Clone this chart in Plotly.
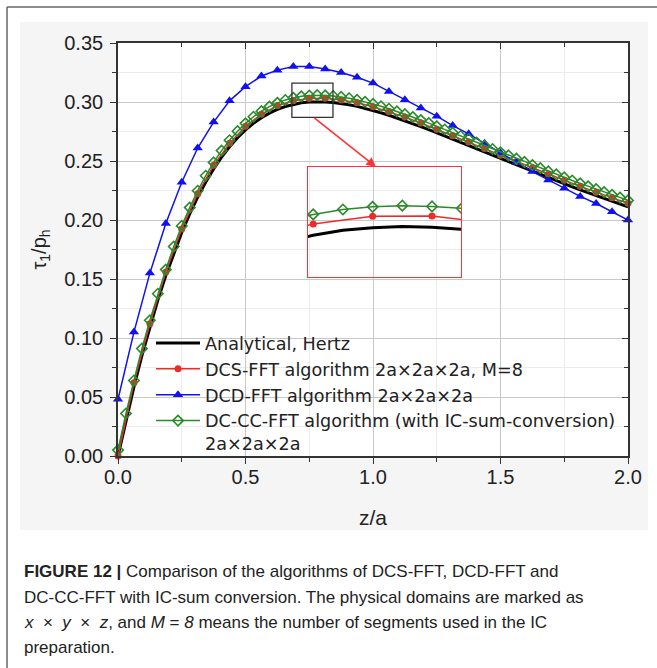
import plotly.graph_objects as go

# ---------------- data ----------------
Z_FINE = [0.0, 0.03125, 0.0625, 0.09375, 0.125, 0.15625, 0.1875, 0.21875,
          0.25, 0.28125, 0.3125, 0.34375, 0.375, 0.40625, 0.4375, 0.46875,
          0.5, 0.53125, 0.5625, 0.59375, 0.625, 0.65625, 0.6875, 0.71875,
          0.75, 0.78125, 0.8125, 0.84375, 0.875, 0.90625, 0.9375, 0.96875,
          1.0, 1.03125, 1.0625, 1.09375, 1.125, 1.15625, 1.1875, 1.21875,
          1.25, 1.28125, 1.3125, 1.34375, 1.375, 1.40625, 1.4375, 1.46875,
          1.5, 1.53125, 1.5625, 1.59375, 1.625, 1.65625, 1.6875, 1.71875,
          1.75, 1.78125, 1.8125, 1.84375, 1.875, 1.90625, 1.9375, 1.96875,
          2.0]

Z_COARSE = [0.0, 0.0625, 0.125, 0.1875, 0.25, 0.3125, 0.375, 0.4375,
            0.5, 0.5625, 0.625, 0.6875, 0.75, 0.8125, 0.875, 0.9375,
            1.0, 1.0625, 1.125, 1.1875, 1.25, 1.3125, 1.375, 1.4375,
            1.5, 1.5625, 1.625, 1.6875, 1.75, 1.8125, 1.875, 1.9375, 2.0]

HERTZ = [0.0, 0.0303, 0.0586, 0.0850, 0.1095, 0.1321, 0.1529, 0.1720,
         0.1894, 0.2051, 0.2193, 0.2320, 0.2433, 0.2533, 0.2621, 0.2698,
         0.2764, 0.2820, 0.2867, 0.2906, 0.2938, 0.2962, 0.2980, 0.2993,
         0.3000, 0.3003, 0.3001, 0.2996, 0.2988, 0.2977, 0.2963, 0.2947,
         0.2929, 0.2909, 0.2888, 0.2865, 0.2842, 0.2817, 0.2792, 0.2766,
         0.2739, 0.2712, 0.2685, 0.2657, 0.2630, 0.2602, 0.2575, 0.2547,
         0.2519, 0.2492, 0.2465, 0.2437, 0.2411, 0.2384, 0.2357, 0.2331,
         0.2306, 0.2280, 0.2255, 0.2230, 0.2206, 0.2182, 0.2158, 0.2135,
         0.2111]

DCS_FFT = [0.0, 0.062, 0.112, 0.156, 0.1924, 0.2223, 0.2463, 0.2651,
           0.2794, 0.2897, 0.2968, 0.3010, 0.3030, 0.3031, 0.3018, 0.2993,
           0.2959, 0.2918, 0.2872, 0.2822, 0.2769, 0.2715, 0.2660, 0.2605,
           0.2549, 0.2495, 0.2441, 0.2387, 0.2336, 0.2285, 0.2236, 0.2188,
           0.2141]

DCD_FFT = [0.048, 0.105, 0.155, 0.197, 0.232, 0.261, 0.283, 0.301,
           0.313, 0.322, 0.327, 0.330, 0.330, 0.328, 0.325, 0.321,
           0.316, 0.309, 0.302, 0.295, 0.288, 0.280, 0.273, 0.265,
           0.257, 0.249, 0.241, 0.234, 0.227, 0.220, 0.214, 0.207,
           0.200]

DC_CC_FFT = [0.005, 0.036, 0.064, 0.091, 0.115, 0.1375, 0.158, 0.1775,
             0.195, 0.2105, 0.2248, 0.2375, 0.2488, 0.2588, 0.2676, 0.2753,
             0.2819, 0.2875, 0.2922, 0.2961, 0.2993, 0.3017, 0.3035, 0.3048,
             0.3055, 0.3058, 0.3056, 0.3051, 0.3043, 0.3032, 0.3018, 0.3002,
             0.2984, 0.2964, 0.2943, 0.2920, 0.2897, 0.2872, 0.2847, 0.2821,
             0.2794, 0.2767, 0.2740, 0.2712, 0.2685, 0.2657, 0.2630, 0.2602,
             0.2574, 0.2547, 0.2520, 0.2492, 0.2466, 0.2439, 0.2412, 0.2386,
             0.2361, 0.2335, 0.2310, 0.2285, 0.2261, 0.2237, 0.2213, 0.2190,
             0.2166]

NAMES = ["Analytical, Hertz",
         "DCS-FFT algorithm 2a×2a×2a, M=8",
         "DCD-FFT algorithm 2a×2a×2a",
         "DC-CC-FFT algorithm (with IC-sum-conversion)<br>2a×2a×2a"]

X_TICKS = [0.0, 0.5, 1.0, 1.5, 2.0]
Y_TICKS = [0.00, 0.05, 0.10, 0.15, 0.20, 0.25, 0.30, 0.35]
X_RANGE = [0.0, 2.0]
Y_RANGE = [0.0, 0.35]

# zoom window (black rectangle) shown in the inset
ZOOM_X = [0.682, 0.843]
ZOOM_Y = [0.287, 0.316]
ARROW_HEAD = [1.012, 0.245]
ARROW_TAIL = [0.765, 0.2873]

CAPTION = [
    "<b>FIGURE 12 |</b> Comparison of the algorithms of DCS-FFT, DCD-FFT and",
    "DC-CC-FFT with IC-sum conversion. The physical domains are marked as",
    "<i>x</i>  ×  <i>y</i>  ×  <i>z</i>, and <i>M</i> = <i>8</i> means the number of segments used in the IC",
    "preparation.",
]

# ---------------- geometry ----------------
W, H = 657, 668
L, R, T, B = 118, 628, 43, 456   # plot area in pixels
PW, PH = R - L, B - T


def px(p):
    return (p - L) / PW


def py(p):
    return (B - p) / PH


FONT = "Liberation Sans, Arial, sans-serif"
BLACK = "#000000"
RED = "#ee2a2a"
BLUE = "#1010f0"
GREEN = "#2a8a2a"
AXC = "#333333"

fig = go.Figure()


def add_series(xa, ya, show):
    fig.add_trace(go.Scatter(x=Z_FINE, y=HERTZ, mode="lines", name=NAMES[0],
                             line=dict(color=BLACK, width=3),
                             xaxis=xa, yaxis=ya, showlegend=show, cliponaxis=(not show)))
    fig.add_trace(go.Scatter(x=Z_COARSE, y=DCS_FFT, mode="lines+markers", name=NAMES[1],
                             line=dict(color=RED, width=1.5),
                             marker=dict(symbol="circle", size=7, color=RED),
                             xaxis=xa, yaxis=ya, showlegend=show, cliponaxis=(not show)))
    fig.add_trace(go.Scatter(x=Z_COARSE, y=DCD_FFT, mode="lines+markers", name=NAMES[2],
                             line=dict(color=BLUE, width=1.5),
                             marker=dict(symbol="triangle-up", size=9, color=BLUE),
                             xaxis=xa, yaxis=ya, showlegend=show, cliponaxis=(not show)))
    fig.add_trace(go.Scatter(x=Z_FINE, y=DC_CC_FFT, mode="lines+markers", name=NAMES[3],
                             line=dict(color=GREEN, width=1.5),
                             marker=dict(symbol="diamond-open", size=8, color=GREEN,
                                         line=dict(width=1.6, color=GREEN)),
                             xaxis=xa, yaxis=ya, showlegend=show, cliponaxis=(not show)))


add_series("x", "y", True)
add_series("x3", "y3", False)

# dummy trace to create overlay axes for top/right inside ticks
fig.add_trace(go.Scatter(x=[None], y=[None], xaxis="x2", yaxis="y2",
                         showlegend=False, hoverinfo="skip"))

tickfont = dict(family=FONT, size=20, color="#222222")

fig.update_layout(
    width=W, height=H,
    margin=dict(l=L, r=W - R, t=T, b=H - B),
    paper_bgcolor="white",
    plot_bgcolor="rgba(0,0,0,0)",
    font=dict(family=FONT, color="#222222"),
    xaxis=dict(range=X_RANGE, tickvals=X_TICKS, ticktext=[f"{v:.1f}" for v in X_TICKS],
               ticks="outside", ticklen=6, tickwidth=1.3, tickcolor=AXC,
               showline=True, linecolor=AXC, linewidth=1.6, mirror=False,
               showgrid=True, gridcolor="#c8c8c8", gridwidth=1, zeroline=False,
               minor=dict(dtick=0.25, ticks="outside", ticklen=4, tickcolor=AXC,
                          showgrid=True, gridcolor="#ececec"),
               tickfont=tickfont, automargin=False, ticklabelstandoff=-4,
               title=dict(text="z/a", font=dict(family=FONT, size=21, color="#222222"),
                          standoff=24)),
    yaxis=dict(range=Y_RANGE, tickvals=Y_TICKS, ticktext=[f"{v:.2f}" for v in Y_TICKS],
               ticks="outside", ticklen=6, tickwidth=1.3, tickcolor=AXC,
               showline=True, linecolor=AXC, linewidth=1.6, mirror=False,
               showgrid=True, gridcolor="#c8c8c8", gridwidth=1, zeroline=False,
               minor=dict(dtick=0.025, ticks="outside", ticklen=4, tickcolor=AXC,
                          showgrid=True, gridcolor="#ececec"),
               tickfont=tickfont, automargin=False, ticklabelstandoff=3,
               title=dict(text="τ<sub>1</sub>/p<sub>h</sub>",
                          font=dict(family=FONT, size=20, color="#222222"),
                          standoff=12)),
    xaxis2=dict(range=X_RANGE, overlaying="x", side="top", anchor="y",
                showline=True, linecolor=AXC, linewidth=1.6,
                ticks="inside", ticklen=6, tickwidth=1.3, tickcolor=AXC,
                tickvals=X_TICKS, showticklabels=False, showgrid=False, zeroline=False,
                minor=dict(dtick=0.25, ticks="inside", ticklen=4, tickcolor=AXC)),
    yaxis2=dict(range=Y_RANGE, overlaying="y", side="right", anchor="x",
                showline=True, linecolor=AXC, linewidth=1.6,
                ticks="inside", ticklen=6, tickwidth=1.3, tickcolor=AXC,
                tickvals=Y_TICKS, showticklabels=False, showgrid=False, zeroline=False,
                minor=dict(dtick=0.025, ticks="inside", ticklen=4, tickcolor=AXC)),
    xaxis3=dict(domain=[px(308), px(461)], range=ZOOM_X, anchor="y3",
                showline=True, mirror=True, linecolor="#ff3333", linewidth=1.3,
                ticks="", showticklabels=False, showgrid=False, zeroline=False),
    yaxis3=dict(domain=[py(277), py(167)], range=ZOOM_Y, anchor="x3",
                showline=True, mirror=True, linecolor="#ff3333", linewidth=1.3,
                ticks="", showticklabels=False, showgrid=False, zeroline=False),
    legend=dict(x=px(151), y=py(325), xanchor="left", yanchor="top",
                bgcolor="rgba(0,0,0,0)", borderwidth=0,
                font=dict(family="DejaVu Sans, Liberation Sans, Arial", size=17.6,
                          color="#222222"),
                itemwidth=44, tracegroupgap=0, valign="top"),
    showlegend=True,
)

shapes = [
    # figure tint region
    dict(type="rect", xref="paper", yref="paper", layer="below",
         x0=px(20), x1=px(648), y0=py(530), y1=py(22),
         fillcolor="#f5f5f5", line=dict(width=0)),
    # white plot area
    dict(type="rect", xref="paper", yref="paper", layer="below",
         x0=0, x1=1, y0=0, y1=1, fillcolor="white", line=dict(width=0)),
    # outer frame (left and top)
    dict(type="line", xref="paper", yref="paper", x0=px(7), x1=px(7),
         y0=py(7), y1=py(H + 5), line=dict(color="#666666", width=1.5)),
    dict(type="line", xref="paper", yref="paper", x0=px(7), x1=px(W + 5),
         y0=py(7), y1=py(7), line=dict(color="#666666", width=1.5)),
    # zoom window rectangle
    dict(type="rect", xref="x", yref="y", x0=ZOOM_X[0], x1=ZOOM_X[1],
         y0=ZOOM_Y[0], y1=ZOOM_Y[1], line=dict(color="#333333", width=1.3)),
]
fig.update_layout(shapes=shapes)

annotations = [
    dict(x=ARROW_HEAD[0], y=ARROW_HEAD[1], ax=ARROW_TAIL[0], ay=ARROW_TAIL[1],
         xref="x", yref="y", axref="x", ayref="y", text="", showarrow=True,
         arrowhead=2, arrowsize=1.2, arrowwidth=1.6, arrowcolor="#ff3333"),
]
cap_y = [571, 597, 622, 647]
for txt, yy in zip(CAPTION, cap_y):
    annotations.append(dict(x=px(22), y=py(yy), xref="paper", yref="paper",
                            xanchor="left", yanchor="middle", showarrow=False,
                            text=txt, font=dict(family=FONT, size=17, color="#222222")))
fig.update_layout(annotations=annotations)

fig.write_html("out.html", config={"displayModeBar": False},
               post_script="document.body.style.margin='0';document.body.style.padding='0';")
